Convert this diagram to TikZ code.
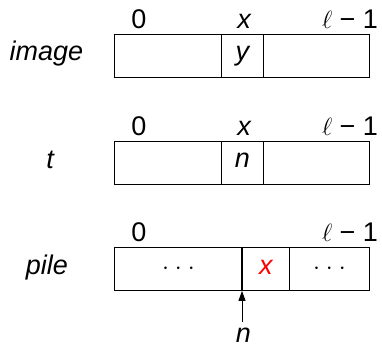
\documentclass[tikz,border=0pt]{standalone}
\usepackage{fontspec}
\setmainfont{Liberation Sans}
\usetikzlibrary{arrows.meta}
\newcommand{\bigtext}{\fontsize{27}{32}\selectfont}
\newcommand{\dotrow}{$\cdot$\hspace{6pt}$\cdot$\hspace{6pt}$\cdot$}
\tikzset{
  cell/.style={draw, line width=0.9pt, inner sep=0pt, text height=27pt, text depth=16pt, anchor=north west},
  idx/.style={anchor=base, inner sep=0pt},
  rowname/.style={anchor=base, inner sep=0pt, font=\bigtext\itshape},
  ptr/.style={line width=0.9pt, -{Triangle[length=10pt,width=7pt]}},
}
\begin{document}
\begin{tikzpicture}[x=1pt, y=-1pt, font=\bigtext]
\useasboundingbox (0,0) rectangle (382,343);

% array "image"
\node[cell, minimum width=107pt] (a1) at (114,33.5) {};
\node[cell, minimum width=42pt] (a2) at (221,33.5) {\itshape y};
\node[cell, minimum width=106pt] (a3) at (263,33.5) {};
\node[idx] (a0) at (139,28) {0};
\node[idx] (ax) at (244,28) {\itshape x};
\node[idx] (al) at (350,28) {$\ell$ − 1};
\node[rowname] (an) at (46.5,60) {image};

% array "t"
\node[cell, minimum width=107pt] (b1) at (114,140.5) {};
\node[cell, minimum width=42pt] (b2) at (221,140.5) {\itshape n};
\node[cell, minimum width=106pt] (b3) at (263,140.5) {};
\node[idx] (b0) at (139,135) {0};
\node[idx] (bx) at (244,135) {\itshape x};
\node[idx] (bl) at (350,135) {$\ell$ − 1};
\node[rowname] (bn) at (50,168) {t};

% array "pile"
\node[cell, minimum width=128pt] (c1) at (114,247) {\dotrow};
\node[cell, minimum width=47pt, text=red] (c2) at (242,247) {\itshape x};
\node[cell, minimum width=80pt] (c3) at (289,247) {\dotrow};
\draw[line width=1.5pt] (c2.north west) -- (c2.south west);
\node[idx] (c0) at (139,241.5) {0};
\node[idx] (cl) at (350,241.5) {$\ell$ − 1};
\node[rowname] (cn) at (47,274) {pile};

% pointer n
\node[idx] (cp) at (243.5,342) {\itshape n};
\coordinate (cpt) at (242,322);
\draw[ptr] (cpt) -- (c2.south west);
\end{tikzpicture}
\end{document}
